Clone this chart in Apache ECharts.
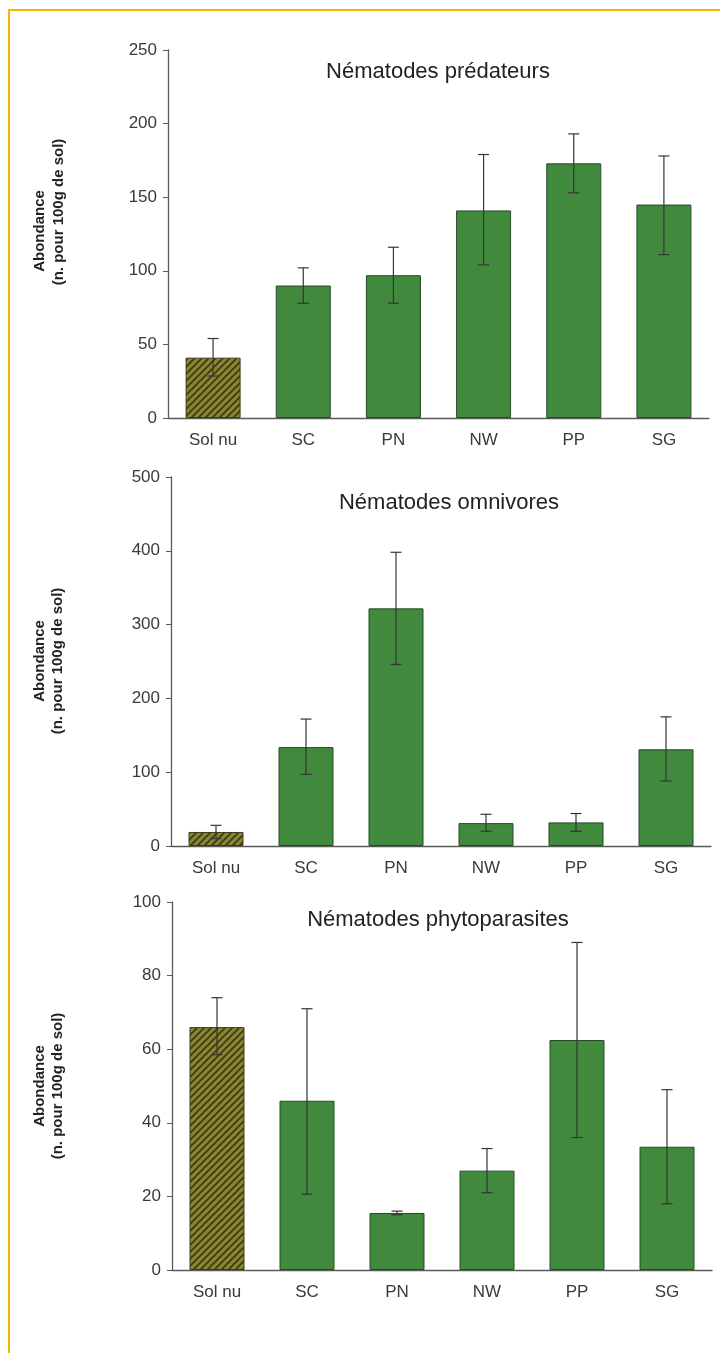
<!DOCTYPE html>
<html>
<head>
<meta charset="utf-8">
<script src="https://cdn.jsdelivr.net/npm/echarts@6/dist/echarts.min.js"></script>
<style>
html,body{margin:0;padding:0;background:#fff;}
#main{width:720px;height:1353px;}
</style>
</head>
<body>
<div id="main"></div>
<script>
// ---- data ----
const categories = ['Sol nu', 'SC', 'PN', 'NW', 'PP', 'SG'];
const titles = ['Nématodes prédateurs', 'Nématodes omnivores', 'Nématodes phytoparasites'];
const yNameLine1 = 'Abondance';
const yNameLine2 = '(n. pour 100g de sol)';

const predMean = [41, 90, 97, 141, 173, 145];
const predLow  = [28.5, 78, 78, 104, 153, 111];
const predHigh = [54, 102, 116, 179, 193, 178];

const omniMean = [19, 134, 322, 31, 32, 131];
const omniLow  = [10, 97, 246, 20, 20, 88];
const omniHigh = [28, 172, 398, 43, 44, 175];

const phytoMean = [66, 46, 15.5, 27, 62.5, 33.5];
const phytoLow  = [58.5, 20.6, 15, 21, 36, 18];
const phytoHigh = [74, 71, 16, 33, 89, 49];

const yMax = [250, 500, 100];
const yStep = [50, 100, 20];

// ---- styling ----
const GREEN = '#418a3d';
const BORDER = '#264a26';
const AXIS = '#5a5a5a';
const TXT = '#3a3a3a';

function hatchCanvas() {
  const s = 7;
  const c = document.createElement('canvas');
  c.width = s; c.height = s;
  const g = c.getContext('2d');
  g.fillStyle = '#8a8630';
  g.fillRect(0, 0, s, s);
  g.strokeStyle = '#3a3816';
  g.lineWidth = 1.6;
  g.beginPath();
  g.moveTo(-1, s + 1); g.lineTo(s + 1, -1);
  g.moveTo(-1, 1); g.lineTo(1, -1);
  g.moveTo(s - 1, s + 1); g.lineTo(s + 1, s - 1);
  g.stroke();
  return c;
}
const hatch = { image: hatchCanvas(), repeat: 'repeat' };

const grids = [
  { left: 168, right: 11, top: 50, height: 368 },
  { left: 171, right: 9, top: 477, height: 369 },
  { left: 172, right: 8, top: 902, height: 368 }
];

const sets = [
  [predMean, predLow, predHigh],
  [omniMean, omniLow, omniHigh],
  [phytoMean, phytoLow, phytoHigh]
];

function renderErr(params, api) {
  const lo = api.coord([api.value(0), api.value(1)]);
  const hi = api.coord([api.value(0), api.value(2)]);
  const w = 5.5;
  const st = { stroke: '#353535', lineWidth: 1.2 };
  return {
    type: 'group',
    children: [
      { type: 'line', shape: { x1: lo[0], y1: lo[1], x2: hi[0], y2: hi[1] }, style: st },
      { type: 'line', shape: { x1: lo[0] - w, y1: lo[1], x2: lo[0] + w, y2: lo[1] }, style: st },
      { type: 'line', shape: { x1: hi[0] - w, y1: hi[1], x2: hi[0] + w, y2: hi[1] }, style: st }
    ]
  };
}

const xAxis = [], yAxis = [], series = [];
grids.forEach((g, i) => {
  xAxis.push({
    type: 'category', gridIndex: i, data: categories,
    axisLine: { lineStyle: { color: AXIS, width: 1.3 } },
    axisTick: { alignWithLabel: true, length: 5, lineStyle: { color: AXIS } },
    axisLabel: { color: TXT, fontSize: 17, fontFamily: 'Liberation Sans, Arial, sans-serif', margin: 14 }
  });
  yAxis.push({
    type: 'value', gridIndex: i, min: 0, max: yMax[i], interval: yStep[i],
    splitLine: { show: false },
    axisLine: { show: true, lineStyle: { color: AXIS, width: 1.3 } },
    axisTick: { show: true, length: 5, lineStyle: { color: AXIS } },
    axisLabel: { color: TXT, fontSize: 17, fontFamily: 'Liberation Sans, Arial, sans-serif', margin: 11 }
  });
  const [m, lo, hi] = sets[i];
  series.push({
    type: 'bar', xAxisIndex: i, yAxisIndex: i, barWidth: 55,
    itemStyle: { color: GREEN, borderColor: BORDER, borderWidth: 1 },
    data: m.map((v, k) => k === 0
      ? { value: v, itemStyle: { color: hatch, borderColor: '#3e3c18', borderWidth: 1 } }
      : v)
  });
  series.push({
    type: 'custom', xAxisIndex: i, yAxisIndex: i, z: 5,
    renderItem: renderErr,
    encode: { x: 0, y: [1, 2] },
    data: categories.map((c, k) => [k, lo[k], hi[k]])
  });
});

const titlePos = [[438, 72], [449, 503], [438, 920]];
const namePos = [
  [[40, 231], [59, 212]],
  [[40, 661], [58, 661]],
  [[40, 1086], [58, 1086]]
];

const graphic = [
  { type: 'rect', shape: { x: 9, y: 10, width: 800, height: 1500 },
    style: { fill: 'none', stroke: '#f5b400', lineWidth: 2 }, z: 0 }
];
titles.forEach((t, i) => {
  graphic.push({ type: 'text', x: titlePos[i][0], y: titlePos[i][1],
    style: { text: t, fill: '#222', font: '22px "Liberation Sans", Arial, sans-serif', align: 'center', verticalAlign: 'middle' } });
  graphic.push({ type: 'text', x: namePos[i][0][0], y: namePos[i][0][1], rotation: Math.PI / 2,
    style: { text: yNameLine1, fill: '#222', font: 'bold 15px "Liberation Sans", Arial, sans-serif', align: 'center', verticalAlign: 'middle' } });
  graphic.push({ type: 'text', x: namePos[i][1][0], y: namePos[i][1][1], rotation: Math.PI / 2,
    style: { text: yNameLine2, fill: '#222', font: 'bold 15px "Liberation Sans", Arial, sans-serif', align: 'center', verticalAlign: 'middle' } });
});

const chart = echarts.init(document.getElementById('main'), null, { renderer: 'canvas' });
chart.setOption({
  animation: false,
  backgroundColor: '#fff',
  grid: grids,
  xAxis: xAxis,
  yAxis: yAxis,
  series: series,
  graphic: graphic
});
</script>
</body>
</html>
